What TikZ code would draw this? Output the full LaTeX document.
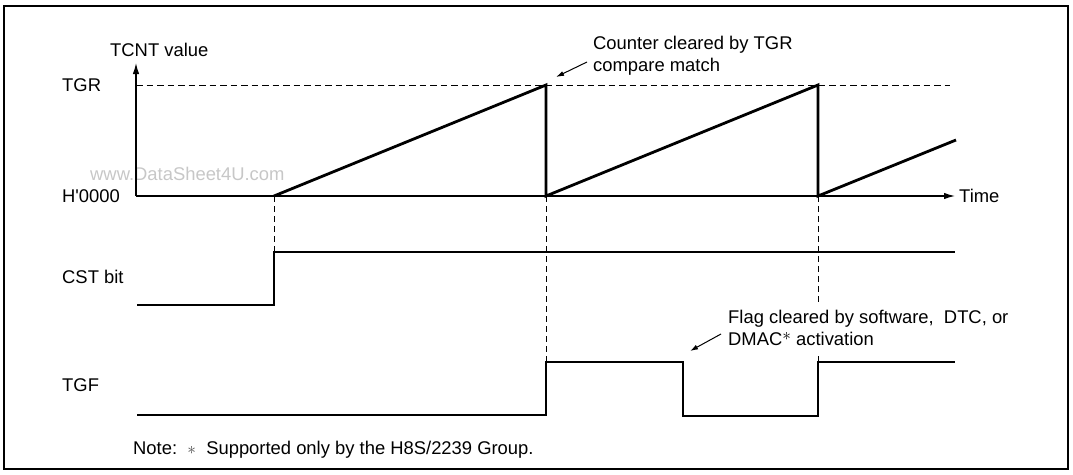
\documentclass[tikz,border=0pt]{standalone}
\usepackage{fontspec}
\setmainfont{Liberation Sans}[Ligatures=TeXOff]
\usetikzlibrary{arrows.meta}
\begin{document}
\begin{tikzpicture}[x=1pt,y=-1pt,
  lbl/.style={inner sep=0pt,anchor=base west,font=\fontsize{18.4pt}{22pt}\selectfont},
  sig/.style={line width=2.8pt,line join=miter,line cap=butt},
  axisline/.style={line width=1.3pt},
  guide/.style={line width=1pt,dash pattern=on 6pt off 4pt},
  tgrline/.style={line width=1pt,dash pattern=on 6.5pt off 4pt},
  axarrow/.style={-{Latex[length=11pt,width=6.5pt]}},
  callout/.style={line width=1pt,-{Latex[length=8pt,width=5pt]}}]
\useasboundingbox (0,0) rectangle (1073,474);
\draw[line width=2.5pt] (4,6) rectangle (1068,469);

% coordinates
\coordinate (o) at (136,196);
\coordinate (ytop) at (136,63);
\coordinate (xend) at (955,196);
\coordinate (tgr0) at (136,85);
\coordinate (tgr1) at (950,85);
\coordinate (s0) at (274,196);
\coordinate (p1) at (546,85);
\coordinate (b1) at (546,196);
\coordinate (p2) at (818,85);
\coordinate (b2) at (818,196);
\coordinate (e3) at (956,140);

% watermark
\node[lbl,text=black!22] (wm) at (90,180) {www.DataSheet4U.com};

% axes
\draw[tgrline] (tgr0) -- (tgr1);
\draw[axisline,axarrow] (o) -- (ytop);
\draw[axisline,axarrow] (o) -- (xend);

% guides
\draw[guide] (s0) -- (274,252);
\draw[guide] (b1) -- (546,362);
\draw[guide] (b2) -- (818,305);
\draw[guide] (818,356) -- (818,362);

% sawtooth
\draw[sig] (s0) -- (p1) -- (b1) -- (p2) -- (b2) -- (e3);

% CST
\draw[sig] (137,305) -- (274,305) -- (274,252) -- (955,252);
% TGF
\draw[sig] (137,415) -- (546,415) -- (546,362) -- (683,362) -- (683,416) -- (818,416) -- (818,362) -- (955,362);

% labels
\node[lbl] (tcnt) at (110,56) {TCNT value};
\node[lbl] (tgr) at (62,91) {TGR};
\node[lbl] (h0) at (62,202) {H'0000};
\node[lbl] (time) at (959,202) {Time};
\node[lbl] (cst) at (62,283) {CST bit};
\node[lbl] (tgf) at (62,391) {TGF};

\node[lbl,anchor=north west,align=left] (cc) at (593,35.8) {Counter cleared by TGR\\compare match};
\coordinate (cct) at (587,62);
\coordinate (cch) at (556,77);
\draw[callout] (cct) -- (cch);

\node[lbl,anchor=north west,align=left] (fl) at (728,309.8) {Flag cleared by software,\ \ DTC, or\\DMAC\raisebox{5pt}[0pt][0pt]{$\ast$} activation};
\coordinate (flt) at (721,334);
\coordinate (flh) at (690,351);
\draw[callout] (flt) -- (flh);

\node[lbl] (note) at (133,454) {Note:\ \ {\color{black!70}$\ast$}\ \ Supported only by the H8S/2239 Group.};
\end{tikzpicture}
\end{document}
